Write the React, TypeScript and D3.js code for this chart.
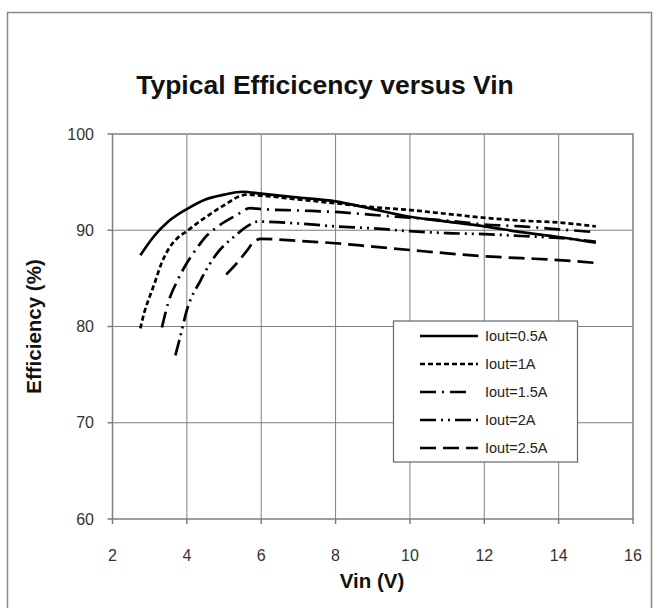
import React from "react";
import * as d3 from "d3";

const xTicks = [2, 4, 6, 8, 10, 12, 14, 16];
const yTicks = [60, 70, 80, 90, 100];

const seriesNames = ["Iout=0.5A", "Iout=1A", "Iout=1.5A", "Iout=2A", "Iout=2.5A"];

const vin05 = [2.75, 3.1, 3.5, 4, 4.5, 5, 5.5, 6, 7, 8, 9, 10, 11, 12, 13, 14, 15];
const eff05 = [87.4, 89.3, 90.9, 92.2, 93.2, 93.7, 94.0, 93.8, 93.4, 93.0, 92.2, 91.4, 90.9, 90.4, 89.8, 89.3, 88.7];

const vin10 = [2.75, 2.85, 3, 3.15, 3.3, 3.5, 3.75, 4, 4.3, 4.6, 5, 5.6, 6, 7, 8, 9, 10, 11, 12, 13, 14, 15];
const eff10 = [79.8, 81.4, 83.1, 84.7, 86.4, 88.0, 89.2, 89.9, 90.8, 91.6, 92.6, 93.7, 93.6, 93.2, 92.8, 92.4, 92.1, 91.7, 91.3, 91.0, 90.8, 90.4];

const vin15 = [3.33, 3.5, 3.75, 4.0, 4.3, 4.5, 4.8, 5.35, 5.7, 6, 7, 8, 9, 10, 11, 12, 13, 14, 15];
const eff15 = [79.9, 82.5, 84.8, 86.6, 88.3, 89.3, 90.3, 91.6, 92.3, 92.2, 92.05, 91.9, 91.6, 91.3, 91.0, 90.6, 90.4, 90.1, 89.8];

const vin20 = [3.69, 3.8, 4.0, 4.37, 4.81, 5.26, 5.62, 5.9, 7, 8, 9, 10, 11, 12, 13, 14, 15];
const eff20 = [77.0, 78.6, 81.7, 84.8, 87.6, 89.3, 90.4, 90.9, 90.7, 90.4, 90.2, 89.9, 89.7, 89.6, 89.4, 89.2, 88.8];

const vin25 = [5.06, 5.35, 5.62, 5.8, 6.0, 7, 8, 9, 10, 11, 12, 13, 14, 15];
const eff25 = [85.4, 86.6, 87.9, 88.8, 89.1, 88.9, 88.65, 88.3, 87.95, 87.6, 87.3, 87.1, 86.9, 86.6];

const seriesVin = [vin05, vin10, vin15, vin20, vin25];
const seriesEff = [eff05, eff10, eff15, eff20, eff25];
const dashes = ["none", "5 3", "16 6 2 6", "16 5 2 5 2 5", "16 7"];

const FONT = "'Liberation Sans', Arial, sans-serif";

export default function App() {
  const W = 657, H = 608;
  const left = 112.5, right = 633, top = 134, bottom = 519;
  const x = d3.scaleLinear().domain([2, 16]).range([left, right]);
  const y = d3.scaleLinear().domain([60, 100]).range([bottom, top]);
  const line = d3
    .line<[number, number]>()
    .x((d) => x(d[0]))
    .y((d) => y(d[1]))
    .curve(d3.curveMonotoneX);

  const grid = "#7f7f7f";
  const legX = 393.5, legY = 321, legW = 184, legH = 141;

  return (
    <svg width={W} height={H} style={{ position: "absolute", left: 0, top: 0, background: "#fff" }}>
      <rect x={7.5} y={12.5} width={644} height={640} fill="#fff" stroke="#888" strokeWidth={1.5} />
      <text x={325} y={94} textAnchor="middle" fontFamily={FONT} fontWeight="bold" fontSize={26.5} fill="#111">
        Typical Efficicency versus Vin
      </text>
      {/* grid */}
      {xTicks.slice(1, -1).map((t) => (
        <line key={"gx" + t} x1={x(t)} x2={x(t)} y1={top} y2={bottom} stroke={grid} strokeWidth={1} />
      ))}
      {yTicks.slice(1, -1).map((t) => (
        <line key={"gy" + t} x1={left} x2={right} y1={y(t)} y2={y(t)} stroke={grid} strokeWidth={1} />
      ))}
      <rect x={left} y={top} width={right - left} height={bottom - top} fill="none" stroke={grid} strokeWidth={1.5} />
      {/* ticks */}
      {yTicks.map((t) => (
        <g key={"ty" + t}>
          <line x1={left - 5} x2={left} y1={y(t)} y2={y(t)} stroke={grid} strokeWidth={1.5} />
          <text x={94} y={y(t) + 5.5} textAnchor="end" fontFamily={FONT} fontSize={16} fill="#333">
            {t}
          </text>
        </g>
      ))}
      {xTicks.map((t) => (
        <g key={"tx" + t}>
          <line x1={x(t)} x2={x(t)} y1={bottom} y2={bottom + 5} stroke={grid} strokeWidth={1.5} />
          <text x={x(t)} y={561} textAnchor="middle" fontFamily={FONT} fontSize={16} fill="#333">
            {t}
          </text>
        </g>
      ))}
      <text x={372} y={588} textAnchor="middle" fontFamily={FONT} fontWeight="bold" fontSize={20.5} fill="#111">
        Vin (V)
      </text>
      <text
        transform={`translate(41, ${(top + bottom) / 2}) rotate(-90)`}
        textAnchor="middle"
        fontFamily={FONT}
        fontWeight="bold"
        fontSize={20.5}
        fill="#111"
      >
        Efficiency (%)
      </text>
      {/* series */}
      {seriesVin.map((vs, i) => (
        <path
          key={"s" + i}
          d={line(vs.map((v, j) => [v, seriesEff[i][j]] as [number, number])) || ""}
          fill="none"
          stroke="#000"
          strokeWidth={2.7}
          strokeDasharray={dashes[i]}
        />
      ))}
      {/* legend */}
      <rect x={legX} y={legY} width={legW} height={legH} fill="#fff" stroke="#666" strokeWidth={1.2} />
      {seriesNames.map((n, i) => {
        const ly = legY + 15 + i * 28;
        return (
          <g key={"l" + i}>
            <line x1={420} x2={i === 2 ? 470 : 478} y1={ly} y2={ly} stroke="#000" strokeWidth={2.5} strokeDasharray={dashes[i]} />
            <text x={485} y={ly + 5} fontFamily={FONT} fontSize={14.5} fill="#222">
              {n}
            </text>
          </g>
        );
      })}
    </svg>
  );
}
